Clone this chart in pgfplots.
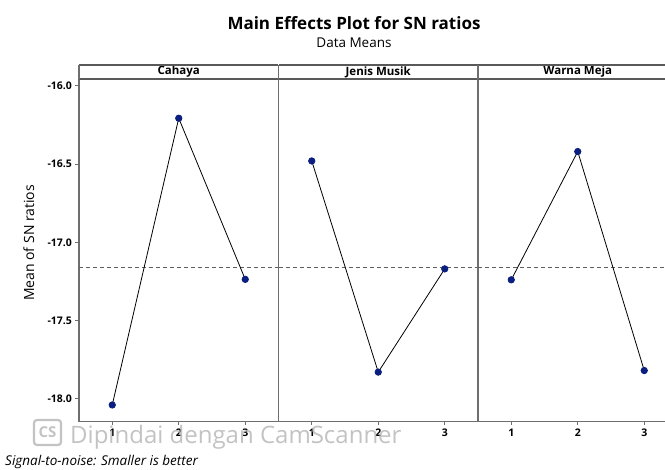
\documentclass[border=0pt]{standalone}
\usepackage{fontspec}
\setmainfont{Open Sans}
\usepackage{pgfplots}
\pgfplotsset{compat=1.18}

\definecolor{navy}{HTML}{0A1F7F}
\definecolor{frame}{HTML}{6E6E6E}
\definecolor{stripc}{HTML}{595959}
\definecolor{refl}{HTML}{5E5E5E}
\definecolor{wm}{HTML}{B8B8B8}

\pgfplotsset{
  panel/.style={
    scale only axis, width=199.5pt, height=342.4pt, anchor=south west,
    xmin=0.5, xmax=3.5, ymin=-18.147, ymax=-15.958,
    xtick={1,2,3}, xtick pos=bottom, tick align=outside, major tick length=3.5pt,
    axis line style={draw=frame, line width=1.1pt},
    every tick/.style={draw=frame, line width=0.9pt},
    tick label style={font=\bfseries\fontsize{10.5}{12}\selectfont, text=black,
      /pgf/number format/assume math mode=true},
    every axis title shift=0pt,
    title style={at={(axis description cs:0.5,1)}, anchor=center, yshift=7.3pt,
      font=\bfseries\fontsize{11.5}{13}\selectfont},
    extra description/.code={
      \draw[stripc, line width=1.8pt] ([yshift=14.3pt]axis description cs:0,1) -- ([yshift=14.3pt]axis description cs:1,1);
      \draw[stripc, line width=1.8pt] (axis description cs:0,1) -- (axis description cs:1,1);
      \draw[frame, line width=1.1pt] (axis description cs:0,1) -- ([yshift=14.3pt]axis description cs:0,1);
      \draw[frame, line width=1.1pt] (axis description cs:1,1) -- ([yshift=14.3pt]axis description cs:1,1);
    },
  },
  series/.style={black, line width=0.8pt, mark=*, mark size=3.2pt,
    mark options={fill=navy, draw=navy}},
  refline/.style={refl, line width=0.9pt, dash pattern=on 4pt off 3pt, no marks},
}

\begin{document}
\begin{tikzpicture}
\useasboundingbox (0pt,0pt) rectangle (665pt,470pt);
\clip (0pt,0pt) rectangle (665pt,470pt);

% Panel 1: Cahaya
\begin{axis}[panel, at={(79pt,48.3pt)}, title={Cahaya},
  ytick={-18,-17.5,-17,-16.5,-16}, yticklabels={-18.0,-17.5,-17.0,-16.5,-16.0},
  ytick pos=left,
  ylabel={Mean of SN ratios},
  every axis y label/.style={at={(axis description cs:-0.251,0.522)}, rotate=90, anchor=center,
    font=\fontsize{14}{16}\selectfont}]
\addplot[refline] coordinates {(0.5,-17.162) (3.5,-17.162)};
\addplot[series] coordinates {(1,-18.040) (2,-16.207) (3,-17.237)};
\end{axis}

% Panel 2: Jenis Musik
\begin{axis}[panel, at={(278.5pt,48.3pt)}, title={Jenis Musik}, ytick=\empty]
\addplot[refline] coordinates {(0.5,-17.162) (3.5,-17.162)};
\addplot[series] coordinates {(1,-16.480) (2,-17.830) (3,-17.170)};
\end{axis}

% Panel 3: Warna Meja
\begin{axis}[panel, at={(478pt,48.3pt)}, title={Warna Meja}, ytick=\empty]
\addplot[refline] coordinates {(0.5,-17.162) (3.5,-17.162)};
\addplot[series] coordinates {(1,-17.240) (2,-16.420) (3,-17.820)};
\end{axis}

% Titles
\node[font=\bfseries\fontsize{17}{19}\selectfont] at (354pt,447pt) {Main Effects Plot for SN ratios};
\node[font=\fontsize{13.5}{15}\selectfont] at (354pt,427pt) {Data Means};

% Footnote
\node[anchor=west, font=\itshape\fontsize{13.5}{15}\selectfont, inner sep=0pt] at (5pt,8pt) {Signal-to-noise: Smaller is better};

% Scanner watermark
\begin{scope}[opacity=0.85]
\draw[wm, line width=2.2pt, rounded corners=3pt] (34pt,25pt) rectangle (61pt,50pt);
\node[wm, font=\bfseries\fontsize{15}{16}\selectfont, inner sep=0pt] at (47.5pt,37.5pt) {CS};
\node[wm, anchor=base west, font=\fontsize{24}{27}\selectfont, inner sep=0pt] at (70pt,26.7pt) {Dipindai dengan CamScanner};
\end{scope}
\end{tikzpicture}
\end{document}
